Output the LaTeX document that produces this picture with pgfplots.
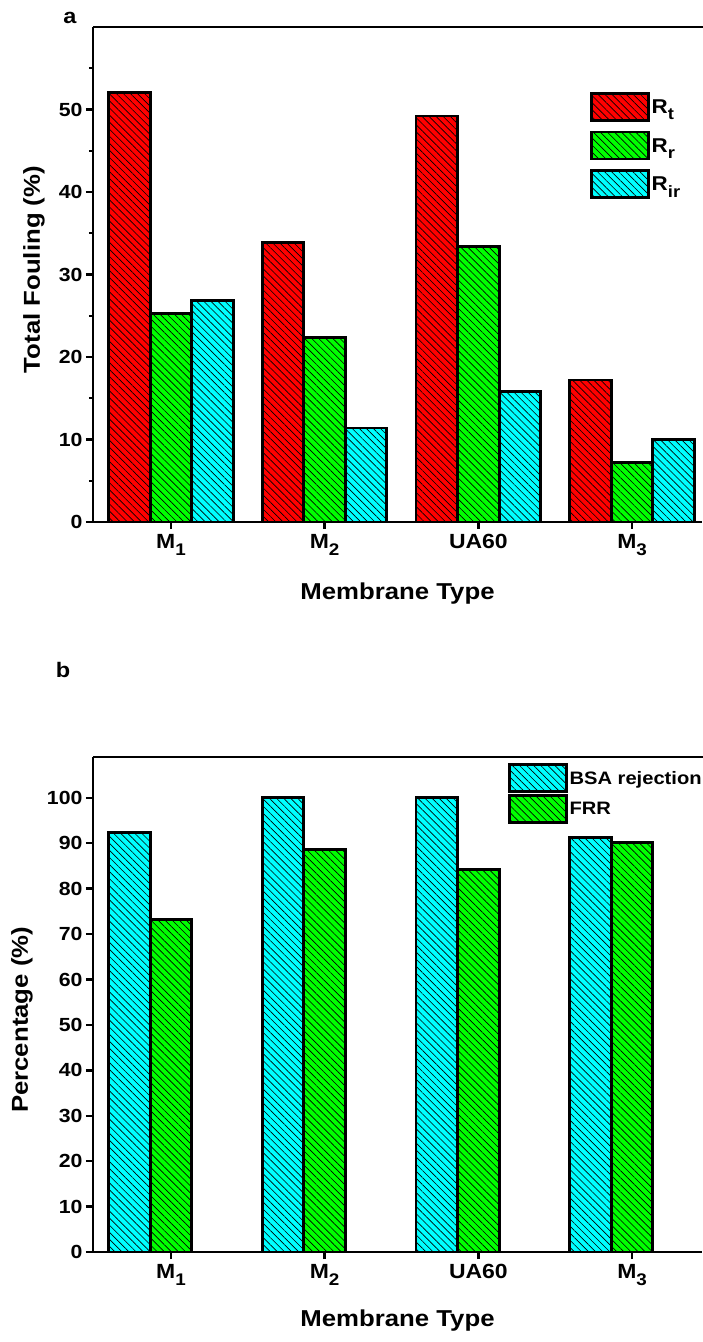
\documentclass[border=0pt]{standalone}
\usepackage{fontspec}
\setmainfont{Liberation Sans}[FakeStretch=1.12]
\usepackage{pgfplots}
\pgfplotsset{compat=1.18}
\usetikzlibrary{patterns.meta}
\definecolor{cR}{RGB}{255,0,0}
\definecolor{cG}{RGB}{0,255,0}
\definecolor{cC}{RGB}{0,255,255}
\newcommand{\sub}[1]{\raisebox{-0.32em}{\scalebox{0.82}{#1}}}
\pgfplotsset{
  common/.style={
    scale only axis,
    width=609pt, height=495pt,
    axis lines*=left,
    clip=false,
    axis line style={line width=2.6pt, black},
    every tick/.style={line width=2.4pt, black},
    major tick length=7pt, minor tick length=4pt,
    tick align=outside,
    xtick pos=bottom, ytick pos=left,
    /pgf/number format/assume math mode=true,
    yticklabel style={font=\bfseries\fontsize{19}{22}\selectfont},
    xticklabel style={font=\bfseries\fontsize{20.5}{23}\selectfont, yshift=-2pt},
    label style={font=\bfseries\fontsize{23}{26}\selectfont},
    xmin=-0.507, xmax=3.455,
    xtick={0,1,2,3},
    xticklabels={M\sub{1},M\sub{2},UA60,M\sub{3}},
    ybar, bar width=0.27,
    legend image code/.code={\draw[##1] (0pt,-13pt) rectangle (57pt,14pt);},
    legend cell align=left,
    legend style={draw=none, fill=none, inner sep=0pt, outer sep=0pt,
      anchor=north west},
  },
  hb/.style={draw=black, line width=2.8pt, preaction={fill=#1},
    pattern={Lines[angle=-45,distance=5pt,line width=0.65pt]}, pattern color=black},
}
\begin{document}
\begin{tikzpicture}
\useasboundingbox (0pt,0pt) rectangle (702pt,1342pt);
% ---------- panel a ----------
\begin{axis}[common,
  at={(93pt,820pt)}, anchor=south west,
  ymin=0, ymax=60,
  ytick={0,10,20,30,40,50},
  minor ytick={5,15,25,35,45,55},
  xlabel={Membrane Type},
  ylabel={Total Fouling (\%)},
  xlabel style={at={(axis description cs:0.5,-0.145)}, anchor=center},
  ylabel style={at={(axis description cs:-0.097,0.51)}, anchor=center},
  legend style={at={(axis description cs:0.816,0.869)}, row sep=9pt,
    font=\bfseries\fontsize{20}{23}\selectfont},
]
\addplot[hb=cR, bar shift=-0.27] coordinates {(0,52.1) (1,33.9) (2,49.2) (3,17.2)};
\addplot[hb=cG, bar shift=0] coordinates {(0,25.3) (1,22.4) (2,33.4) (3,7.2)};
\addplot[hb=cC, bar shift=0.27] coordinates {(0,26.8) (1,11.4) (2,15.8) (3,10.0)};
\legend{R\sub{t},R\sub{r},R\sub{ir}}
\draw[line width=2.6pt] (rel axis cs:0,1) -- (rel axis cs:1.05,1);
\end{axis}
% ---------- panel b ----------
\begin{axis}[common,
  at={(93pt,90pt)}, anchor=south west,
  ymin=0, ymax=109,
  ytick={0,10,...,100},
  xlabel={Membrane Type},
  ylabel={Percentage (\%)},
  xlabel style={at={(axis description cs:0.5,-0.139)}, anchor=center},
  ylabel style={at={(axis description cs:-0.1166,0.469)}, anchor=center},
  legend style={at={(axis description cs:0.681,0.988)}, row sep=1pt,
    font=\bfseries\fontsize{18}{21}\selectfont},
]
\addplot[hb=cC, bar shift=-0.27] coordinates {(0,92.4) (1,100.0) (2,100.0) (3,91.2)};
\addplot[hb=cG, bar shift=0] coordinates {(0,73.3) (1,88.6) (2,84.2) (3,90.1)};
\legend{BSA rejection,FRR}
\draw[line width=2.6pt] (rel axis cs:0,1) -- (rel axis cs:1.05,1);
\end{axis}
\node[font=\bfseries\fontsize{21}{24}\selectfont] at (70pt,1324pt) {a};
\node[font=\bfseries\fontsize{21}{24}\selectfont] at (63pt,672pt) {b};
\end{tikzpicture}
\end{document}
